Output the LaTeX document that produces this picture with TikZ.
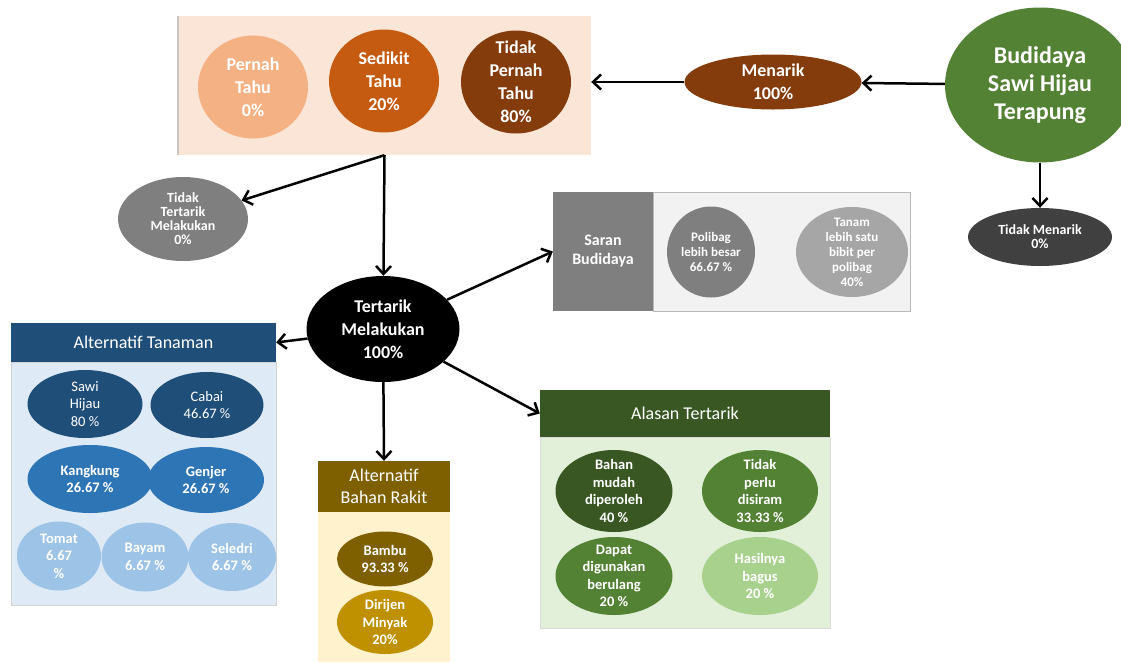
\documentclass[tikz,border=0pt]{standalone}
\usepackage{fontspec}
\setmainfont{Carlito}
\usetikzlibrary{shapes.geometric,arrows.meta}
\definecolor{peachbg}{HTML}{FBE5D6}
\definecolor{peachA}{HTML}{F4B183}
\definecolor{peachB}{HTML}{C55A11}
\definecolor{peachC}{HTML}{843C0C}
\definecolor{greenA}{HTML}{548235}
\definecolor{greenB}{HTML}{385723}
\definecolor{greenC}{HTML}{A9D18E}
\definecolor{greenbg}{HTML}{E2F0D9}
\definecolor{blueA}{HTML}{1F4E79}
\definecolor{blueB}{HTML}{2E75B6}
\definecolor{blueC}{HTML}{9DC3E6}
\definecolor{bluebg}{HTML}{DEEBF7}
\definecolor{goldA}{HTML}{7F6000}
\definecolor{goldB}{HTML}{BF9000}
\definecolor{goldbg}{HTML}{FFF2CC}
\definecolor{greyA}{HTML}{404040}
\definecolor{greyB}{HTML}{7F7F7F}
\definecolor{greyC}{HTML}{A6A6A6}
\definecolor{greybg}{HTML}{F2F2F2}
\tikzset{
  oval/.style 2 args={ellipse, minimum width=#1pt, minimum height=#2pt},
  box/.style 2 args={rectangle, minimum width=#1pt, minimum height=#2pt},
  txt/.style={text=white, align=center},
  thuge/.style={txt, font=\fontsize{24}{28}\selectfont\bfseries},
  tbig/.style={txt, font=\fontsize{18}{23}\selectfont\bfseries},
  thead/.style={txt, font=\fontsize{18}{22}\selectfont},
  tmid/.style={txt, font=\fontsize{14.5}{17.5}\selectfont\bfseries},
  tmidr/.style={txt, font=\fontsize{14.5}{17.5}\selectfont},
  tsaran/.style={txt, font=\fontsize{13}{15}\selectfont\bfseries},
  tsmall/.style={txt, font=\fontsize{14}{14}\selectfont\bfseries},
  arr/.style={-{Straight Barb[length=8pt,width=15pt]}, line width=2.5pt, black}
}
\begin{document}
\begin{tikzpicture}[x=1pt,y=-1pt]
  \tikzstyle{every node}+=[inner sep=0pt]
  \useasboundingbox (0,0) rectangle (1121,662);
  % pengetahuan
  \node[box={413}{139}, fill=peachbg] (tahu) at (384.5,85.5) {};
  \draw[gray!45, line width=1.5pt] (tahu.north west) -- (tahu.south west);
  \node[oval={110}{103}, fill=peachA, label={[tbig]center:{Pernah\\Tahu\\0\%}}] (pernah) at (253,87) {};
  \node[oval={110}{103}, fill=peachB, label={[tbig]center:{Sedikit\\Tahu\\20\%}}] (sedikit) at (384,81) {};
  \node[oval={110}{103}, fill=peachC, label={[tbig]center:{Tidak\\Pernah\\Tahu\\80\%}}] (tdkpernah) at (516,82) {};
  \node[oval={177}{55}, fill=peachC, label={[tbig]center:{Menarik\\100\%}}] (menarik) at (773,82) {};
  \node[oval={190}{155}, fill=greenA, thuge] (budidaya) at (1040,85) {Budidaya\\Sawi Hijau\\Terapung};
  \node[oval={144}{58}, fill=greyA, tsmall] (tdkmenarik) at (1040,237) {Tidak Menarik\\0\%};
  \node[oval={130}{84}, fill=greyB, tsmall] (tdktertarik) at (183,219) {Tidak\\Tertarik\\Melakukan\\0\%};
  \node[oval={153}{106}, fill=black, tbig] (tertarik) at (383,329) {Tertarik\\Melakukan\\100\%};
  % saran
  \node[box={100}{119}, fill=greyB, font=\fontsize{16}{19}\selectfont\bfseries, txt] (saranhead) at (603,251.5) {Saran\\Budidaya};
  \node[box={257}{119}, fill=greybg, draw=gray!55, line width=0.8pt] (saranbody) at (781.5,251.5) {};
  \node[oval={88}{91}, fill=greyB, label={[tsaran]center:{Polibag\\lebih besar\\66.67 \%}}] (polibag) at (711,252) {};
  \node[oval={112}{90}, fill=greyC, label={[tsaran]center:{Tanam\\lebih satu\\bibit per\\polibag\\40\%}}] (tanam) at (852,252) {};
  % alternatif tanaman
  \node[box={265}{39}, fill=blueA, thead] (tanamhead) at (143.5,342.5) {Alternatif Tanaman};
  \node[box={265}{243}, fill=bluebg, draw=gray!35] (tanambody) at (143.5,483.5) {};
  \node[oval={115}{68}, fill=blueA, label={[tmidr]center:{Sawi\\Hijau\\80 \%}}] (sawi) at (85,404) {};
  \node[oval={113}{66}, fill=blueA, label={[tmidr]center:{Cabai\\46.67 \%}}] (cabai) at (207,405) {};
  \node[oval={125}{68}, fill=blueB, label={[tmid]center:{Kangkung\\26.67 \%}}] (kangkung) at (90,479) {};
  \node[oval={116}{66}, fill=blueB, label={[tmid]center:{Genjer\\26.67 \%}}] (genjer) at (206,480) {};
  \node[oval={84}{69}, fill=blueC, label={[tmid]center:{Tomat\\6.67\\\%}}] (tomat) at (59,556) {};
  \node[oval={87}{69}, fill=blueC, label={[tmid]center:{Bayam\\6.67 \%}}] (bayam) at (145,557) {};
  \node[oval={88}{68}, fill=blueC, label={[tmid]center:{Seledri\\6.67 \%}}] (seledri) at (232,557) {};
  % bahan rakit
  \node[box={132}{51}, fill=goldA, thead] (rakithead) at (384,486.5) {Alternatif\\Bahan Rakit};
  \node[box={132}{150}, fill=goldbg] (rakitbody) at (384,587) {};
  \node[oval={96}{55}, fill=goldA, label={[tmid]center:{Bambu\\93.33 \%}}] (bambu) at (385,559) {};
  \node[oval={96}{64}, fill=goldB, label={[tmid]center:{Dirijen\\Minyak\\20\%}}] (dirijen) at (385,622) {};
  % alasan
  \node[box={290}{47}, fill=greenB, thead] (alasanhead) at (685,413.5) {Alasan Tertarik};
  \node[box={290}{191}, fill=greenbg, draw=gray!30] (alasanbody) at (685,532.5) {};
  \node[oval={117}{82}, fill=greenB, label={[tmid]center:{Bahan\\mudah\\diperoleh\\40 \%}}] (bahan) at (614,491) {};
  \node[oval={116}{82}, fill=greenA, label={[tmid]center:{Tidak\\perlu\\disiram\\33.33 \%}}] (siram) at (760,491) {};
  \node[oval={117}{78}, fill=greenA, label={[tmid]center:{Dapat\\digunakan\\berulang\\20 \%}}] (dapat) at (614,576) {};
  \node[oval={116}{78}, fill=greenC, label={[tmid]center:{Hasilnya\\bagus\\20 \%}}] (hasil) at (760,576) {};
  % panah
  \draw[arr] (budidaya) -- (menarik);
  \draw[arr] (menarik) -- (tahu.east |- menarik);
  \draw[arr] (budidaya) -- (tdkmenarik);
  \draw[arr] (tahu.south) -- (tdktertarik);
  \draw[arr] (tahu.south) -- (tertarik);
  \draw[arr] (tertarik) -- (saranhead.west);
  \draw[arr] (tertarik) -- (tanamhead.east);
  \draw[arr] (tertarik) -- (rakithead.north);
  \draw[arr] (tertarik) -- (alasanhead.west);
\end{tikzpicture}
\end{document}
